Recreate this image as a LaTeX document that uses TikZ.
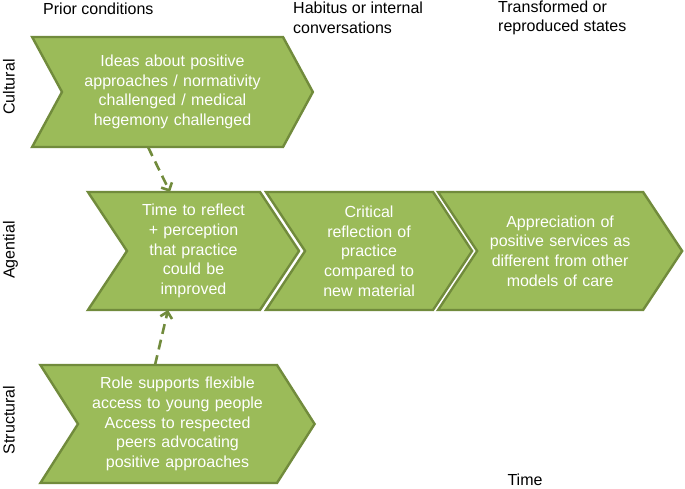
\documentclass[tikz,border=0pt]{standalone}
\usepackage{fontspec}
\setmainfont{Liberation Sans}
\usetikzlibrary{shapes.symbols, arrows.meta, positioning}
\definecolor{leaf}{RGB}{155, 187, 89}
\definecolor{moss}{RGB}{113, 139, 60}

\begin{document}
\begin{tikzpicture}[
            x=1pt, y=1pt,
            chevron/.style={signal, signal to=east, signal from=west, draw=moss, line width=2.4pt, fill=leaf, text=white, align=center, inner xsep=0pt, inner ysep=2pt, outer sep=0pt, font=\fontsize{16}{19.7}\selectfont},
            header/.style={anchor=north west, inner sep=0pt, align=left, font=\fontsize{16}{19.5}\selectfont},
            level/.style={rotate=90, anchor=base, inner sep=0pt, font=\fontsize{16}{19.5}\selectfont},
            link/.style={-{Straight Barb[length=6pt, width=12pt]}, moss, line width=2.6pt, dash pattern=on 10pt off 6pt}
        ]
            \useasboundingbox (0,0) rectangle (685,488);

            \node[chevron, text width=221pt, minimum height=110pt, signal pointer angle=123] at (172.5,396) (cult) {Ideas about positive\\approaches / normativity\\challenged / medical\\hegemony challenged};
            \node[chevron, text width=133pt, minimum height=118pt, signal pointer angle=113] at (193.5,237) (reflect) {Time to reflect\\+ perception\\that practice\\could be\\improved};
            \node[chevron, text width=128pt, minimum height=118pt, signal pointer angle=113, right=6pt of reflect] (critical) {Critical\\reflection of\\practice\\compared to\\new material};
            \node[chevron, text width=166pt, minimum height=118pt, signal pointer angle=113, right=5pt of critical] (apprec) {Appreciation of\\positive services as\\different from other\\models of care};
            \node[chevron, text width=199pt, minimum height=118pt, signal pointer angle=115] at (177.5,64) (role) {Role supports flexible\\access to young people\\Access to respected\\peers advocating\\positive approaches};

            \draw[link] ([xshift=-24.5pt]cult.south) -- ([xshift=-23.5pt]reflect.north);
            \draw[link] ([xshift=-22.5pt]role.north) -- ([xshift=-25.5pt]reflect.south);

            \node[header] at (43,485) (prior) {Prior conditions};
            \node[header] at (293,486) (habitus) {Habitus or internal\\conversations};
            \node[header] at (498,487.5) (states) {Transformed or\\reproduced states};

            \node[level] at (14.5,401) (cultural) {Cultural};
            \node[level] at (14.5,238) (agential) {Agential};
            \node[level] at (14.5,68) (structural) {Structural};

            \node[anchor=base, inner sep=0pt, font=\fontsize{16}{19.5}\selectfont] at (525,3) (time) {Time};
        \end{tikzpicture}
\end{document}
